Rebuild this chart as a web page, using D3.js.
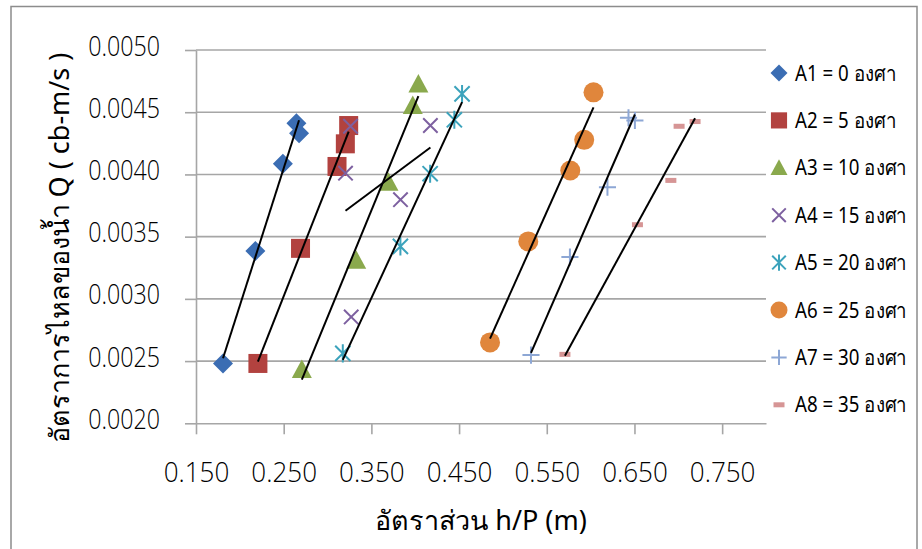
<!DOCTYPE html>
<html><head><meta charset="utf-8">
<script src="https://cdn.jsdelivr.net/npm/d3@7"></script>
<style>
body{margin:0;background:#fff}
text{font-family:"Noto Sans",sans-serif;fill:#000}
.tick text{font-family:"Open Sans","Noto Sans",sans-serif;font-weight:300}
</style>
</head><body>
<svg id="c" width="922" height="549"></svg>
<script>
// ---- data ----
const seriesNames = ["A1 = 0 องศา","A2 = 5 องศา","A3 = 10 องศา","A4 = 15 องศา","A5 = 20 องศา","A6 = 25 องศา","A7 = 30 องศา","A8 = 35 องศา"];
const a1X = [0.1808,0.2177,0.2491,0.2645,0.2675];
const a1Y = [0.002481,0.003385,0.004086,0.004411,0.004330];
const a2X = [0.2206,0.2692,0.3108,0.3203,0.3241];
const a2Y = [0.002481,0.003406,0.004064,0.004246,0.004393];
const a3X = [0.2707,0.3327,0.3695,0.3972,0.4036];
const a3Y = [0.002432,0.003310,0.003938,0.004553,0.004727];
const a4X = [0.3270,0.3832,0.3205,0.3262,0.4173];
const a4Y = [0.002855,0.003797,0.004010,0.004387,0.004393];
const a5X = [0.3174,0.3831,0.4170,0.4446,0.4534];
const a5Y = [0.002562,0.003422,0.004006,0.004439,0.004647];
const a6X = [0.4853,0.5289,0.5768,0.5927,0.6033];
const a6Y = [0.002650,0.003462,0.004032,0.004278,0.004660];
const a7X = [0.5320,0.5764,0.6192,0.6432,0.6505];
const a7Y = [0.002548,0.003336,0.003898,0.004455,0.004433];
const a8X = [0.5707,0.6534,0.6915,0.7009,0.7191];
const a8Y = [0.002554,0.003596,0.003952,0.004387,0.004425];
const xTickValues = [0.15,0.25,0.35,0.45,0.55,0.65,0.75];
const xTickLabels = ["0.150","0.250","0.350","0.450","0.550","0.650","0.750"];
const yTickValues = [0.002,0.0025,0.003,0.0035,0.004,0.0045,0.005];
const yTickLabels = ["0.0020","0.0025","0.0030","0.0035","0.0040","0.0045","0.0050"];
const xTitle = "อัตราส่วน h/P (m)";
const yTitle = "อัตราการไหลของน้ำ Q ( cb-m/s )";

const seriesX = [a1X,a2X,a3X,a4X,a5X,a6X,a7X,a8X];
const seriesY = [a1Y,a2Y,a3Y,a4Y,a5Y,a6Y,a7Y,a8Y];
const markerTypes = ["diamond","square","triangle","x","star","circle","plus","dash"];
const colors = ["#3B6DB3","#B2423F","#8AA94D","#7D60A0","#3CA3BC","#E0863C","#8DA7D5","#D69595"];

// ---- chart ----
const svg = d3.select("#c");
svg.append("rect").attr("x",11).attr("y",6.5).attr("width",906).attr("height",560)
  .attr("fill","#fff").attr("stroke","#8c8c8c").attr("stroke-width",1.5);

const x = d3.scaleLinear().domain([0.15,0.80]).range([196,766]);
const y = d3.scaleLinear().domain([0.002,0.005]).range([423.3,50]);
const gridColor = "#a6a6a6";

// horizontally condense text to match the narrow reference face
function condense(sel, k){
  sel.each(function(){
    const L = this.getComputedTextLength();
    d3.select(this).attr("textLength", L*k).attr("lengthAdjust","spacingAndGlyphs");
  });
}

// gridlines
svg.append("g").selectAll("line").data(yTickValues.slice(1)).join("line")
  .attr("x1",196).attr("x2",766).attr("y1",d=>y(d)).attr("y2",d=>y(d))
  .attr("stroke",gridColor).attr("stroke-width",1.6);

// axes
const yAxis = svg.append("g").attr("transform","translate(196,0)")
  .call(d3.axisLeft(y).tickValues(yTickValues).tickFormat((d,i)=>yTickLabels[i]).tickSize(11).tickSizeOuter(0).tickPadding(25));
const xAxis = svg.append("g").attr("transform","translate(0,"+y(0.002)+")")
  .call(d3.axisBottom(x).tickValues(xTickValues).tickFormat((d,i)=>xTickLabels[i]).tickSize(11).tickSizeOuter(0).tickPadding(28));
[yAxis,xAxis].forEach(a=>{
  a.attr("font-family",null).attr("font-size",null);
  a.select(".domain").attr("stroke",gridColor).attr("stroke-width",1.6);
  a.selectAll(".tick line").attr("stroke",gridColor).attr("stroke-width",1.6);
  a.selectAll("text").style("font-size","28px").attr("fill","#000");
});
yAxis.selectAll("text").attr("dy","0.18em");
condense(yAxis.selectAll("text"), 0.83);
condense(xAxis.selectAll("text"), 0.93);

// marker drawing
function drawMarker(g, type, color, s){
  const h = s/2;
  if(type==="diamond"){
    g.append("path").attr("d",`M0,${-h}L${h},0L0,${h}L${-h},0Z`).attr("fill",color);
  } else if(type==="square"){
    g.append("rect").attr("x",-h*0.95).attr("y",-h*0.95).attr("width",s*0.95).attr("height",s*0.95).attr("fill",color);
  } else if(type==="triangle"){
    g.append("path").attr("d",`M0,${-h}L${h},${h*0.85}L${-h},${h*0.85}Z`).attr("fill",color);
  } else if(type==="x"){
    const k=h*0.8;
    g.append("path").attr("d",`M${-k},${-k}L${k},${k}M${-k},${k}L${k},${-k}`).attr("stroke",color).attr("stroke-width",2).attr("fill","none");
  } else if(type==="star"){
    const k=h*0.8;
    g.append("path").attr("d",`M${-k},${-k}L${k},${k}M${-k},${k}L${k},${-k}M0,${-h*0.95}L0,${h*0.95}`).attr("stroke",color).attr("stroke-width",2).attr("fill","none");
  } else if(type==="circle"){
    g.append("circle").attr("r",h).attr("fill",color);
  } else if(type==="plus"){
    const k=h*0.9;
    g.append("path").attr("d",`M${-k},0L${k},0M0,${-k}L0,${k}`).attr("stroke",color).attr("stroke-width",2).attr("fill","none");
  } else if(type==="dash"){
    g.append("rect").attr("x",-5.5).attr("y",-2.5).attr("width",11).attr("height",5).attr("fill",color);
  }
}

const markerSizes = [20,20,20,18,19,20,19,11];
seriesX.forEach((xs,si)=>{
  const g = svg.append("g");
  xs.forEach((xv,i)=>{
    const m = g.append("g").attr("transform",`translate(${x(xv)},${y(seriesY[si][i])})`);
    drawMarker(m, markerTypes[si], colors[si], markerSizes[si]);
  });
});

// linear trendlines (least squares), spanning the data's x-range
seriesX.forEach((xs,si)=>{
  const ys = seriesY[si];
  const mx = d3.mean(xs), my = d3.mean(ys);
  let sxy=0,sxx=0;
  xs.forEach((xv,i)=>{sxy+=(xv-mx)*(ys[i]-my);sxx+=(xv-mx)*(xv-mx);});
  const b = sxy/sxx, a = my-b*mx;
  const [x0,x1] = d3.extent(xs);
  svg.append("line").attr("x1",x(x0)).attr("y1",y(a+b*x0)).attr("x2",x(x1)).attr("y2",y(a+b*x1))
    .attr("stroke","#000").attr("stroke-width",2);
});

// titles
svg.append("text").attr("x",481).attr("y",530).attr("text-anchor","middle").style("font-size","27px").text(xTitle);
svg.append("text").attr("transform","translate(69,248) rotate(-90)").attr("text-anchor","middle").style("font-size","27px").text(yTitle);

// legend
const legendTexts = [];
seriesNames.forEach((n,i)=>{
  const cy = 73 + i*47.4;
  const m = svg.append("g").attr("transform",`translate(779,${cy})`);
  drawMarker(m, markerTypes[i], colors[i], i===7?9:17);
  legendTexts.push(svg.append("text").attr("x",795).attr("y",cy).attr("dy","0.36em").style("font-size","21px").text(n).node());
});
condense(d3.selectAll(legendTexts), 0.89);
</script>
</body></html>
